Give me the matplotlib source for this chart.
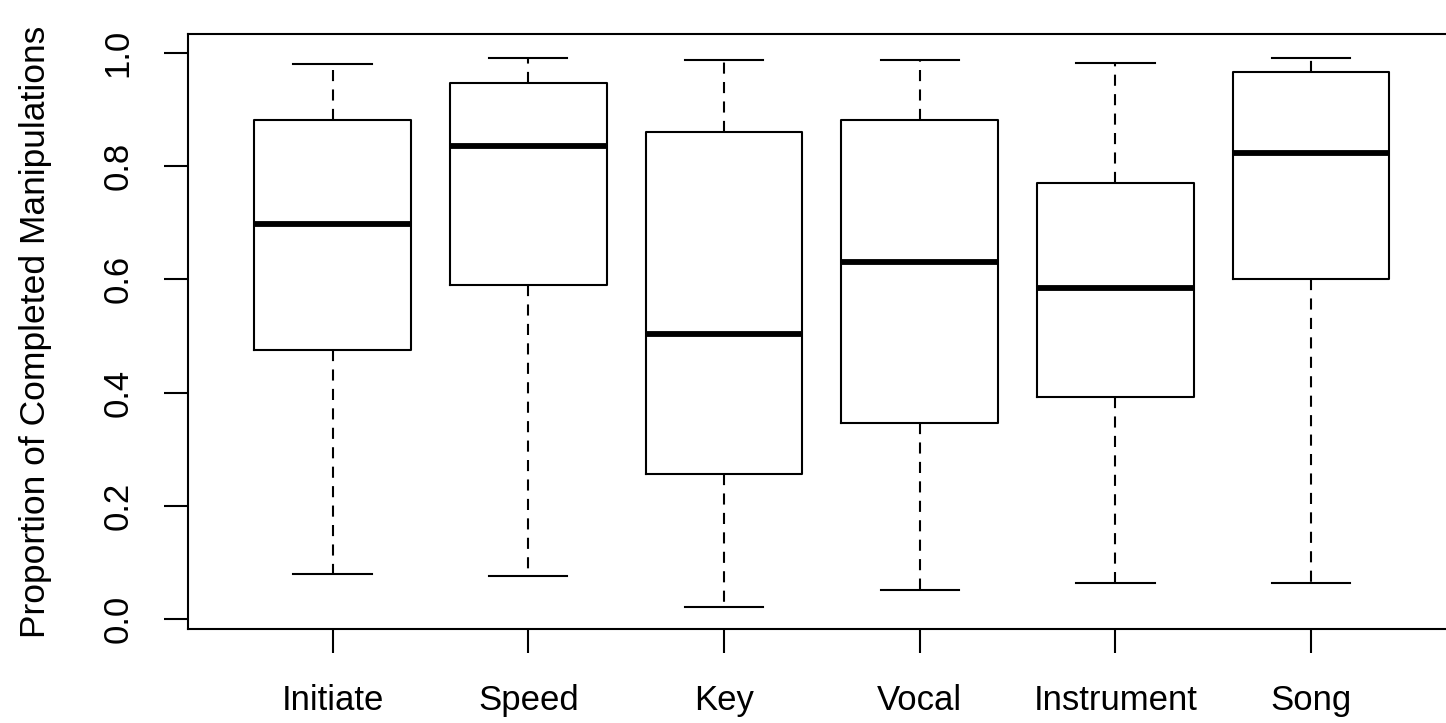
import matplotlib
matplotlib.use("Agg")
import matplotlib.pyplot as plt

plt.rcParams['font.family'] = ['Liberation Sans', 'DejaVu Sans']
plt.rcParams['lines.scale_dashes'] = False

categories = ["Initiate", "Speed", "Key", "Vocal", "Instrument", "Song"]
whisker_low = [0.080, 0.076, 0.022, 0.051, 0.064, 0.064]
q1 = [0.475, 0.590, 0.256, 0.346, 0.392, 0.601]
median = [0.697, 0.836, 0.503, 0.630, 0.585, 0.823]
q3 = [0.882, 0.947, 0.860, 0.882, 0.770, 0.967]
whisker_high = [0.981, 0.992, 0.988, 0.988, 0.983, 0.992]
y_ticks = [0.0, 0.2, 0.4, 0.6, 0.8, 1.0]

stats = [
    dict(label=c, whislo=lo, q1=a, med=m, q3=b, whishi=hi, fliers=[])
    for c, lo, a, m, b, hi in zip(categories, whisker_low, q1, median, q3, whisker_high)
]

W, H = 1446, 723
fig = plt.figure(figsize=(W / 100, H / 100), dpi=100)
left, right, top, bottom = 187.7, 1456.0, 34.3, 629.3
ax = fig.add_axes([left / W, 1 - bottom / H, (right - left) / W, (bottom - top) / H])

lw = 1.5
positions = list(range(1, len(categories) + 1))
ax.bxp(
    stats,
    positions=positions,
    widths=0.8,
    capwidths=0.4,
    showfliers=False,
    boxprops=dict(color="black", linewidth=lw),
    medianprops=dict(color="black", linewidth=4.2, solid_capstyle="butt"),
    whiskerprops=dict(color="black", linewidth=lw, linestyle=(0, (8, 6))),
    capprops=dict(color="black", linewidth=lw),
)

ax.set_xlim(0.26, 6.74)
ax.set_ylim(-0.0182, 1.0330)

ax.set_xticks(positions)
ax.set_xticklabels(categories, fontsize=25)
ax.set_yticks(y_ticks)
ax.set_yticklabels([f"{v:.1f}" for v in y_ticks], fontsize=25, rotation=90,
                   va="center")
ax.tick_params(axis="both", direction="out", length=17.5, width=lw, color="black")
ax.tick_params(axis="x", pad=22)
ax.tick_params(axis="y", pad=21)

for s in ax.spines.values():
    s.set_linewidth(lw)
    s.set_color("black")

ax.set_ylabel("Proportion of Completed Manipulations", fontsize=25.5)
ax.yaxis.set_label_coords((52 - left) / (right - left), 0.5)

fig.savefig("out.png", dpi=100, facecolor="white")
